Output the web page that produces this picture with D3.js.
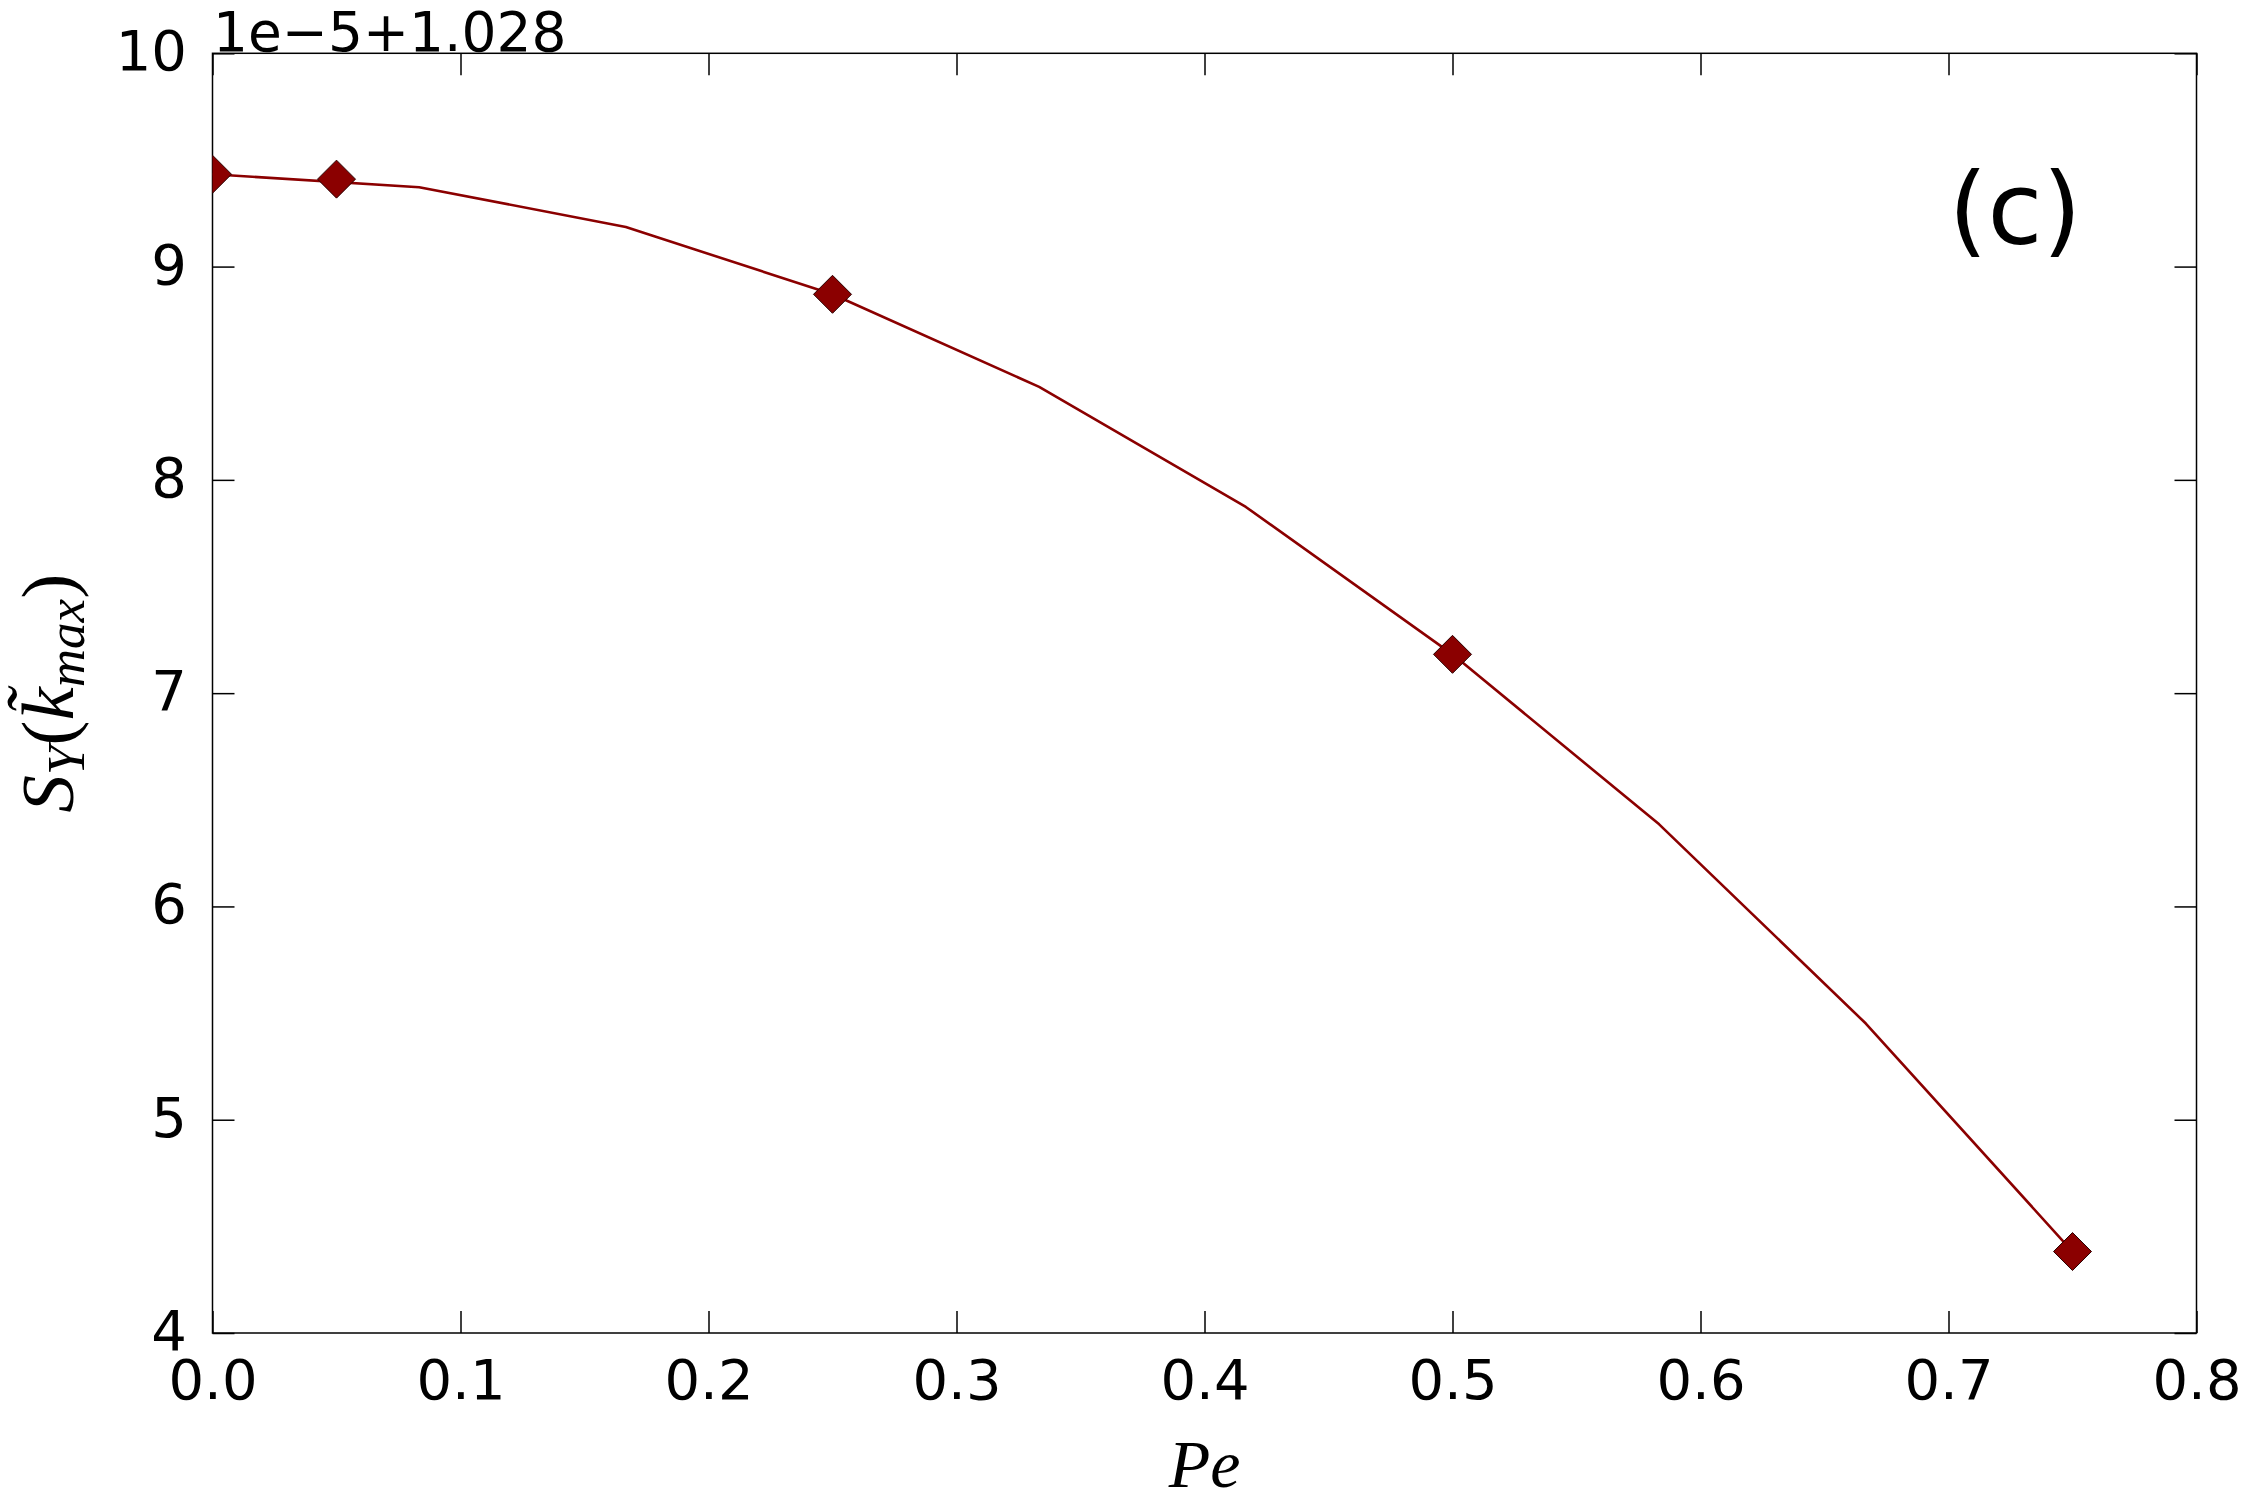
<!DOCTYPE html>
<html>
<head>
<meta charset="utf-8">
<script src="https://cdn.jsdelivr.net/npm/d3@7"></script>
<style>
  html, body { margin: 0; padding: 0; background: #fff; }
  svg { display: block; }
</style>
</head>
<body>
<svg id="chart" width="2248" height="1509"></svg>
<script>
// Data (y values in units of 1e-5, offset 1.028)
const linePe = [0, 1/12, 2/12, 3/12, 4/12, 5/12, 6/12, 7/12, 8/12, 9/12];
const lineS  = [9.433, 9.372, 9.186, 8.870, 8.436, 7.873, 7.182, 6.385, 5.451, 4.382];
const markerPe = [0, 0.05, 0.25, 0.5, 0.75];
const markerS  = [9.433, 9.410, 8.870, 7.182, 4.382];
const xTicks = [0, 0.1, 0.2, 0.3, 0.4, 0.5, 0.6, 0.7, 0.8];
const yTicks = [4, 5, 6, 7, 8, 9, 10];

const svg = d3.select("#chart");
const L = 212.5, R = 2196.5, T = 53.3, B = 1333;
const x = d3.scaleLinear().domain([0, 0.8]).range([L, R]);
const y = d3.scaleLinear().domain([4, 10]).range([B, T]);
const color = "#8b0000";
const tickFont = "'DejaVu Sans', sans-serif";

// Clip
svg.append("defs").append("clipPath").attr("id", "clip")
  .append("rect").attr("x", L).attr("y", T).attr("width", R - L).attr("height", B - T);

// Axes with inward ticks
const tl = 22;
const gx = svg.append("g").attr("transform", `translate(0,${B})`)
  .call(d3.axisBottom(x).tickValues(xTicks).tickSize(-tl).tickPadding(0).tickFormat(d3.format(".1f")));
const gxt = svg.append("g").attr("transform", `translate(0,${T})`)
  .call(d3.axisTop(x).tickValues(xTicks).tickSize(-tl).tickFormat(""));
const gy = svg.append("g").attr("transform", `translate(${L},0)`)
  .call(d3.axisLeft(y).tickValues(yTicks).tickSize(-tl).tickFormat(d3.format("d")));
const gyr = svg.append("g").attr("transform", `translate(${R},0)`)
  .call(d3.axisRight(y).tickValues(yTicks).tickSize(-tl).tickFormat(""));

[gx, gxt, gy, gyr].forEach(g => {
  g.select(".domain").remove();
  g.selectAll(".tick line").attr("stroke", "#000").attr("stroke-width", 1.5);
});

gx.selectAll(".tick text")
  .attr("y", 66).attr("dy", null)
  .attr("font-family", tickFont).attr("font-size", 56).attr("fill", "#000");
gy.selectAll(".tick text")
  .attr("x", -25.5).attr("dy", null).attr("y", 16.5)
  .attr("text-anchor", "end")
  .attr("font-family", tickFont).attr("font-size", 56).attr("fill", "#000");

// Frame
svg.append("rect").attr("x", L).attr("y", T).attr("width", R - L).attr("height", B - T)
  .attr("fill", "none").attr("stroke", "#000").attr("stroke-width", 1.5);

// Line
const pts = linePe.map((p, i) => [p, lineS[i]]);
svg.append("path").datum(pts)
  .attr("clip-path", "url(#clip)")
  .attr("fill", "none").attr("stroke", color).attr("stroke-width", 2.6)
  .attr("stroke-linejoin", "round")
  .attr("d", d3.line().x(d => x(d[0])).y(d => y(d[1])));

// Markers (diamonds)
const mk = markerPe.map((p, i) => [p, markerS[i]]);
const h = 19;
svg.append("g").attr("clip-path", "url(#clip)")
  .selectAll("path").data(mk).join("path")
  .attr("d", d => {
    const cx = x(d[0]), cy = y(d[1]);
    return `M${cx},${cy - h}L${cx + h},${cy}L${cx},${cy + h}L${cx - h},${cy}Z`;
  })
  .attr("fill", color).attr("stroke", "#2a0000").attr("stroke-width", 1);

// Offset text
svg.append("text").attr("x", 213).attr("y", 51)
  .attr("font-family", tickFont).attr("font-size", 55).attr("fill", "#000")
  .text("1e\u22125+1.028");

// Panel label
svg.append("text").attr("x", 2015).attr("y", 244).attr("text-anchor", "middle")
  .attr("font-family", tickFont).attr("font-size", 100).attr("fill", "#000")
  .text("(c)");

// X label
const mathFont = "'Liberation Serif', 'DejaVu Serif', serif";
svg.append("text").attr("x", (L + R) / 2).attr("y", 1487).attr("text-anchor", "middle")
  .attr("font-family", mathFont).attr("font-style", "italic").attr("font-size", 68).attr("fill", "#000")
  .text("Pe");

// Y label
const yl = svg.append("text")
  .attr("transform", `translate(73,${(T + B) / 2}) rotate(-90)`)
  .attr("text-anchor", "middle")
  .attr("font-family", mathFont).attr("font-size", 75).attr("fill", "#000");
yl.append("tspan").attr("font-style", "italic").text("S");
yl.append("tspan").attr("font-style", "italic").attr("font-size", 53).attr("dy", 11).text("Y");
yl.append("tspan").attr("dy", -11).text("(");
yl.append("tspan").attr("font-style", "italic").text("k\u0303");
yl.append("tspan").attr("font-style", "italic").attr("font-size", 53).attr("dy", 11).text("max");
yl.append("tspan").attr("dy", -11).text(")");
</script>
</body>
</html>
